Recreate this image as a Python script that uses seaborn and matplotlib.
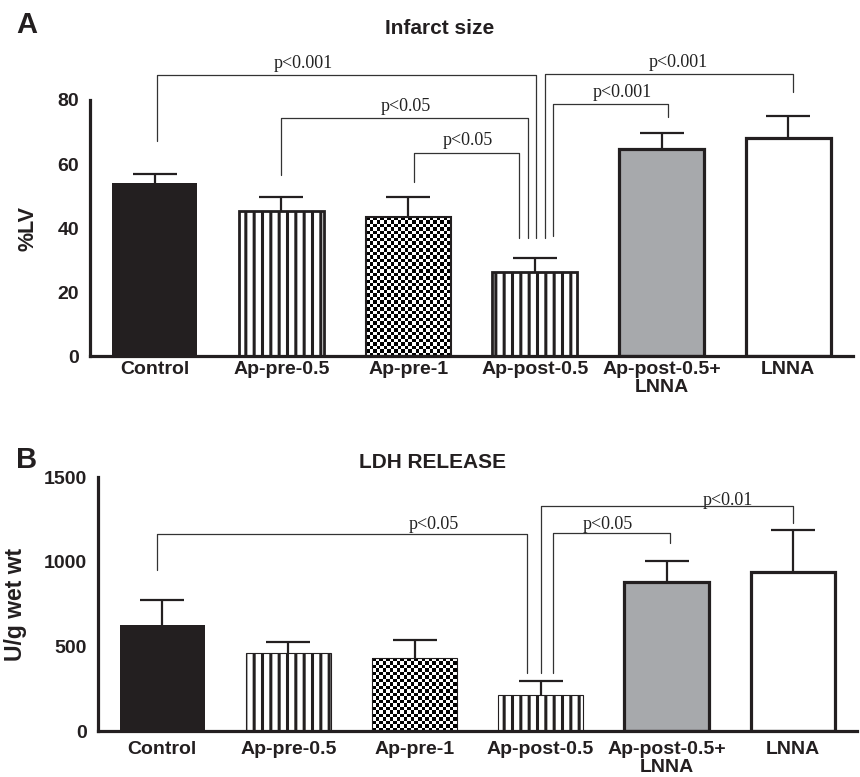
import numpy as np
import matplotlib
matplotlib.use('Agg')
import matplotlib.pyplot as plt
import seaborn as sns

# data
groups = ['Control', 'Ap-pre-0.5', 'Ap-pre-1', 'Ap-post-0.5', 'Ap-post-0.5+\nLNNA', 'LNNA']

infarct_mean = [54.0, 45.2, 43.4, 26.3, 64.6, 68.2]
infarct_sem = [3.0, 4.5, 6.3, 4.3, 5.0, 6.8]

ldh_mean = [626, 461, 431, 213, 880, 939]
ldh_sem = [148, 64, 106, 82, 124, 248]

# brackets: x left, y left end, x right, y right end, y top, label, text x, text y
infarct_brackets = [
    (0.016, 67.2, 3.01, 37.0, 87.8, 'p<0.001', 1.17, 88.6),
    (1.0, 56.6, 2.946, 37.0, 74.5, 'p<0.05', 1.98, 75.2),
    (2.05, 54.4, 2.875, 37.0, 63.3, 'p<0.05', 2.47, 64.6),
    (3.14, 37.5, 4.05, 74.6, 78.6, 'p<0.001', 3.69, 79.8),
    (3.08, 37.0, 5.04, 82.6, 88.1, 'p<0.001', 4.13, 89.2),
]
ldh_brackets = [
    (-0.04, 951, 2.89, 343, 1163, 'p<0.05', 2.155, 1170),
    (3.10, 343, 4.03, 1110, 1169, 'p<0.05', 3.53, 1168),
    (3.00, 343, 5.0, 1228, 1329, 'p<0.01', 4.485, 1312),
]

bar_colors = ['#231f20', 'white', 'white', 'white', '#a7a9ac', 'white']
bar_fill = [None, '||', 'checker', '||', None, None]
ink = '#231f20'

sns.set_theme(style='white')
plt.rcParams['font.family'] = ['Liberation Sans', 'DejaVu Sans']
plt.rcParams['hatch.linewidth'] = 2.2
plt.rcParams['hatch.color'] = ink

fig = plt.figure(figsize=(8.6, 7.77), dpi=100)
ax1 = fig.add_axes([0.1047, 0.5418, 0.887, 0.3295])
ax2 = fig.add_axes([0.114, 0.0592, 0.8826, 0.3269])


def panel(ax, mean, sem, ylim, yticks, edge_w, brackets, xpad):
    sns.barplot(x=groups, y=mean, hue=groups, palette=bar_colors, saturation=1,
                legend=False, errorbar=None, width=0.67, ax=ax)
    ax.set_xlim(-0.51, 5.51)
    ax.set_ylim(*ylim)
    for p, fill, lw in zip(ax.patches, bar_fill, edge_w):
        p.set_edgecolor(ink)
        p.set_linewidth(lw)
        if fill == '||':
            p.set_hatch('||')
        elif fill == 'checker':
            # checkerboard pattern clipped to the bar
            x0, y0 = p.get_x(), p.get_y()
            x1, y1 = x0 + p.get_width(), y0 + p.get_height()
            d = ax.transData.transform([[x0, y0], [x1, y1]])
            ncol = int(round((d[1, 0] - d[0, 0]) / 3.5))
            nrow = int(round((d[1, 1] - d[0, 1]) / 3.5))
            board = np.add.outer(np.arange(nrow), np.arange(ncol)) % 2
            im = ax.imshow(board, cmap='gray', extent=[x0, x1, y0, y1], aspect='auto',
                           interpolation='nearest', zorder=p.get_zorder() - 0.1)
            im.set_clip_path(p)
            p.set_facecolor('none')
    ax.set_xlim(-0.51, 5.51)
    ax.set_ylim(*ylim)
    eb = ax.errorbar(np.arange(len(groups)), mean, yerr=[np.zeros(len(mean)), sem], fmt='none',
                     ecolor=ink, elinewidth=1.6, capsize=15.5, capthick=1.6, zorder=4)
    eb[1][0].set_visible(False)  # no cap at the bar top

    for xl, yl, xr, yr, yt, lab, tx, ty in brackets:
        ax.plot([xl, xl, xr, xr], [yl, yt, yt, yr], color='#333333', lw=0.9,
                clip_on=False, zorder=5)
        ax.text(tx, ty, lab, ha='center', va='bottom', fontsize=13,
                family=['Liberation Serif', 'DejaVu Serif'], color='#222222')

    sns.despine(ax=ax)
    for s in ['left', 'bottom']:
        ax.spines[s].set_linewidth(2.3)
        ax.spines[s].set_color(ink)
    ax.set_yticks(yticks)
    ax.tick_params(axis='y', length=6.5, width=2.0, color=ink, pad=1.5, labelsize=14)
    ax.tick_params(axis='x', length=0, pad=xpad, labelsize=14)
    for t in ax.get_xticklabels() + ax.get_yticklabels():
        t.set_fontweight('bold')
        t.set_color(ink)
    for t in ax.get_xticklabels():
        t.set_linespacing(1.1)
        t.set_verticalalignment('top')


panel(ax1, infarct_mean, infarct_sem, (0, 80), [0, 20, 40, 60, 80],
      [0, 2.0, 1.5, 2.0, 2.3, 2.3], infarct_brackets, 3.5)
panel(ax2, ldh_mean, ldh_sem, (0, 1500), [0, 500, 1000, 1500],
      [0, 0.8, 0.8, 0.8, 2.3, 2.3], ldh_brackets, 7)

ax1.set_ylabel('%LV', fontsize=15.5, fontweight='bold', color=ink)
ax1.yaxis.set_label_coords(-0.068, 0.5)
ax2.set_ylabel('U/g wet wt', fontsize=16.5, fontweight='bold', color=ink)
ax2.yaxis.set_label_coords(-0.094, 0.5)

fig.text(440 / 860, 1 - 28 / 777, 'Infarct size', ha='center', va='center',
         fontsize=15, fontweight='bold', color=ink)
fig.text(16 / 860, 1 - 25 / 777, 'A', ha='left', va='center',
         fontsize=21, fontweight='bold', color=ink)
fig.text(433 / 860, 1 - 462 / 777, 'LDH RELEASE', ha='center', va='center',
         fontsize=15, fontweight='bold', color=ink)
fig.text(16 / 860, 1 - 460 / 777, 'B', ha='left', va='center',
         fontsize=21, fontweight='bold', color=ink)

fig.savefig('out.png', dpi=100)
